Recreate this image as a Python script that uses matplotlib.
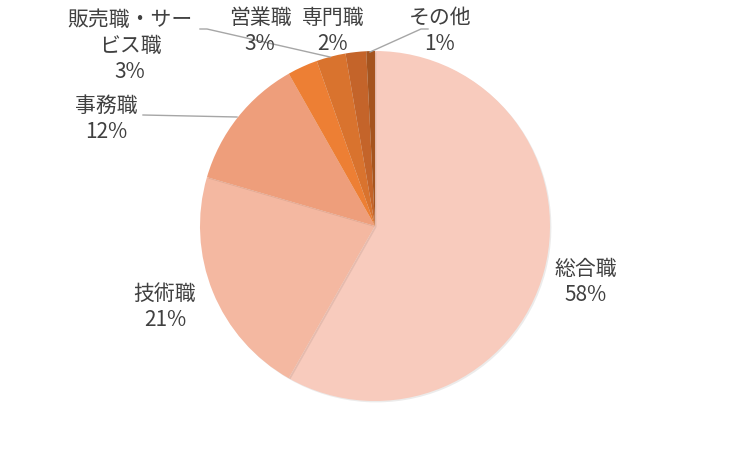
import matplotlib.pyplot as plt
import matplotlib.patheffects as pe

plt.rcParams['font.family'] = ['Noto Sans CJK JP', 'DejaVu Sans']

# data
categories = ['総合職', '技術職', '事務職', '販売職・サー\nビス職', '営業職', '専門職', 'その他']
shares = [58.2, 21.3, 12.3, 2.8, 2.7, 1.9, 0.8]
pct_labels = ['58%', '21%', '12%', '3%', '3%', '2%', '1%']
colors = ['#F8CBBD', '#F4B8A1', '#EE9E7B', '#ED7F34', '#D9732E', '#C4642A', '#A5541F']

W, H = 750, 451
fig = plt.figure(figsize=(7.5, 4.51), dpi=100)
ax = fig.add_axes([0, 0, 1, 1])

cx, cy, r = 375, H - 226, 175
wedges, _ = ax.pie(shares, colors=colors, startangle=90, counterclock=False,
                   center=(cx, cy), radius=r, frame=True,
                   wedgeprops=dict(linewidth=0))
for w in wedges:
    w.set_path_effects([pe.SimplePatchShadow(offset=(1, -1), alpha=0.1), pe.Normal()])
ax.set_xlim(0, W)
ax.set_ylim(0, H)
ax.set_aspect('equal')
ax.axis('off')

# label positions (pixel coords, top-left origin)
label_pos = [(586, 282), (165, 307), (106, 119), (130, 46), (260, 31), (333, 31), (440, 31)]
for name, pct, (x, y) in zip(categories, pct_labels, label_pos):
    ax.text(x, H - y, name + '\n' + pct, ha='center', va='center',
            fontsize=15, color='#404040', linespacing=1.25)

# leader lines
lc = '#A6A6A6'
ax.plot([143, 237], [H - 115, H - 117], color=lc, lw=1)
ax.plot([200, 207, 330], [H - 29, H - 29, H - 57], color=lc, lw=1)
ax.plot([370, 421, 428], [H - 52, H - 29, H - 29], color=lc, lw=1)

fig.savefig('out.png', dpi=100)
